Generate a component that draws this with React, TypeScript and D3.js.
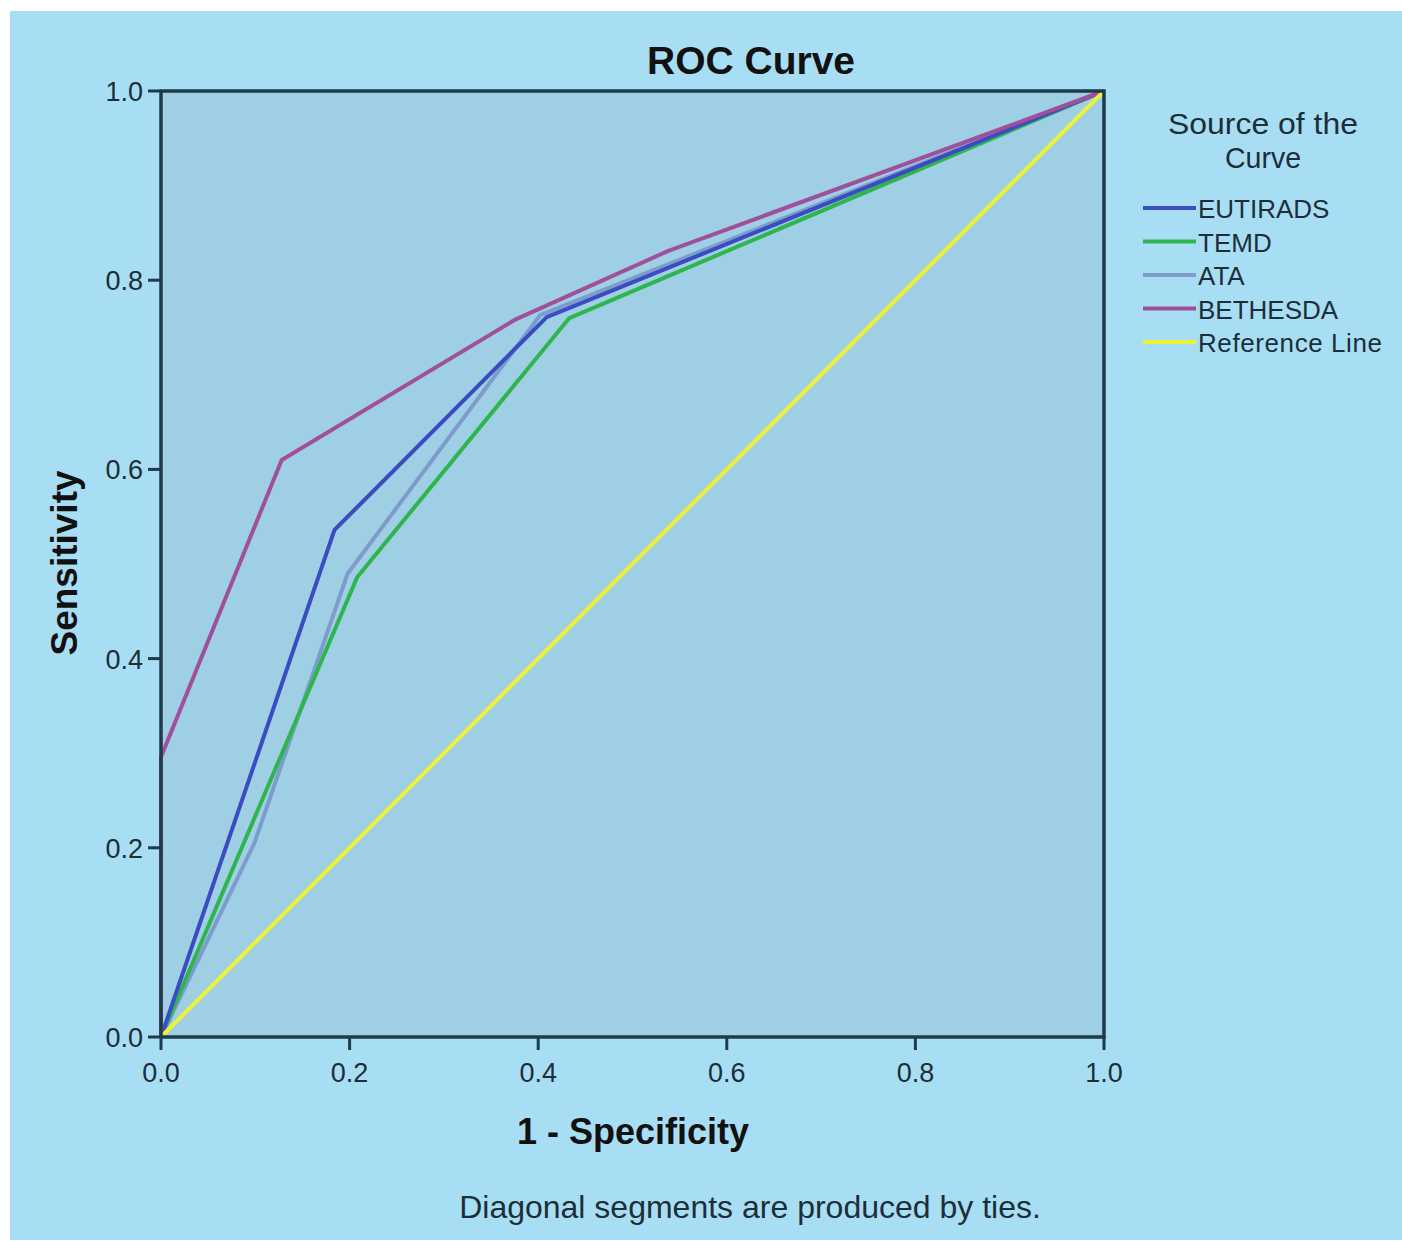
import React from 'react';
import * as d3 from 'd3';

// ROC curves: [1 - specificity, sensitivity]
const eutirads: [number, number][] = [[0, 0], [0.184, 0.536], [0.409, 0.761], [1, 1]];
const temd: [number, number][] = [[0, 0], [0.208, 0.486], [0.433, 0.76], [1, 1]];
const ata: [number, number][] = [[0, 0], [0.099, 0.205], [0.198, 0.49], [0.402, 0.763], [1, 1]];
const bethesda: [number, number][] = [[0, 0], [0, 0.296], [0.128, 0.61], [0.375, 0.758], [0.538, 0.831], [1, 1]];
const referenceLine: [number, number][] = [[0, 0], [1, 1]];

const seriesNames = ['EUTIRADS', 'TEMD', 'ATA', 'BETHESDA', 'Reference Line'];
const seriesColors = ['#3a4cc2', '#2fb54e', '#7d9ccb', '#a0509b', '#eef03a'];
const tickValues = [0, 0.2, 0.4, 0.6, 0.8, 1.0];

const W = 1402, H = 1241;
const margin = { left: 161, right: 298, top: 91, bottom: 204 };
const font = '"Liberation Sans", Arial, sans-serif';
const ink = '#1c2e38';

export default function App() {
  const x = d3.scaleLinear().domain([0, 1]).range([margin.left, W - margin.right]);
  const y = d3.scaleLinear().domain([0, 1]).range([H - margin.bottom, margin.top]);
  const line = d3.line<[number, number]>().x(d => x(d[0])).y(d => y(d[1]));

  // drawn so that the reference line sits on top like the original
  const series = [ata, temd, eutirads, bethesda, referenceLine];
  const order = [2, 1, 0, 3, 4];

  return (
    <div style={{ position: 'absolute', left: 0, top: 0 }}>
      <svg width={W} height={H} style={{ display: 'block', background: '#fff' }}>
        <rect x={10} y={11} width={W - 10} height={H - 12} fill="#a8def4" />
        <text x={751} y={74} textAnchor="middle" fontFamily={font} fontWeight="bold" fontSize={39} fill="#111">ROC Curve</text>

        <rect x={x(0)} y={y(1)} width={x(1) - x(0)} height={y(0) - y(1)} fill="#9fcfe4" />

        {series.map((s, i) => (
          <path key={i} d={line(s) || ''} fill="none" stroke={seriesColors[order[i]]} strokeWidth={4} strokeLinejoin="round" />
        ))}

        <rect x={x(0)} y={y(1)} width={x(1) - x(0)} height={y(0) - y(1)} fill="none" stroke="#1f3a48" strokeWidth={3.5} />

        {tickValues.map(t => (
          <g key={'x' + t}>
            <line x1={x(t)} x2={x(t)} y1={y(0)} y2={y(0) + 13} stroke="#1f3a48" strokeWidth={3} />
            <text x={x(t)} y={y(0) + 45} textAnchor="middle" fontFamily={font} fontSize={27} fill={ink}>{t.toFixed(1)}</text>
          </g>
        ))}
        {tickValues.map(t => (
          <g key={'y' + t}>
            <line x1={x(0) - 13} x2={x(0)} y1={y(t)} y2={y(t)} stroke="#1f3a48" strokeWidth={3} />
            <text x={x(0) - 18} y={y(t) + 10} textAnchor="end" fontFamily={font} fontSize={27} fill={ink}>{t.toFixed(1)}</text>
          </g>
        ))}

        <text x={633} y={1144} textAnchor="middle" fontFamily={font} fontWeight="bold" fontSize={36} fill="#111">1 - Specificity</text>
        <text transform="translate(77,563) rotate(-90)" textAnchor="middle" fontFamily={font} fontWeight="bold" fontSize={37} fill="#111">Sensitivity</text>
        <text x={750} y={1218} textAnchor="middle" fontFamily={font} fontSize={32} fill={ink}>Diagonal segments are produced by ties.</text>

        <text x={1263} y={134} textAnchor="middle" fontFamily={font} fontSize={29} fill={ink} textLength={190} lengthAdjust="spacingAndGlyphs">Source of the</text>
        <text x={1263} y={168} textAnchor="middle" fontFamily={font} fontSize={29} fill={ink} textLength={76} lengthAdjust="spacingAndGlyphs">Curve</text>
        {seriesNames.map((n, i) => (
          <g key={n} transform={`translate(0,${208 + i * 33.5})`}>
            <line x1={1143} x2={1196} y1={0} y2={0} stroke={seriesColors[i]} strokeWidth={4} />
            <text x={1198} y={10} fontFamily={font} fontSize={26} fill={ink} textLength={i === 4 ? 184 : undefined}>{n}</text>
          </g>
        ))}
      </svg>
    </div>
  );
}
